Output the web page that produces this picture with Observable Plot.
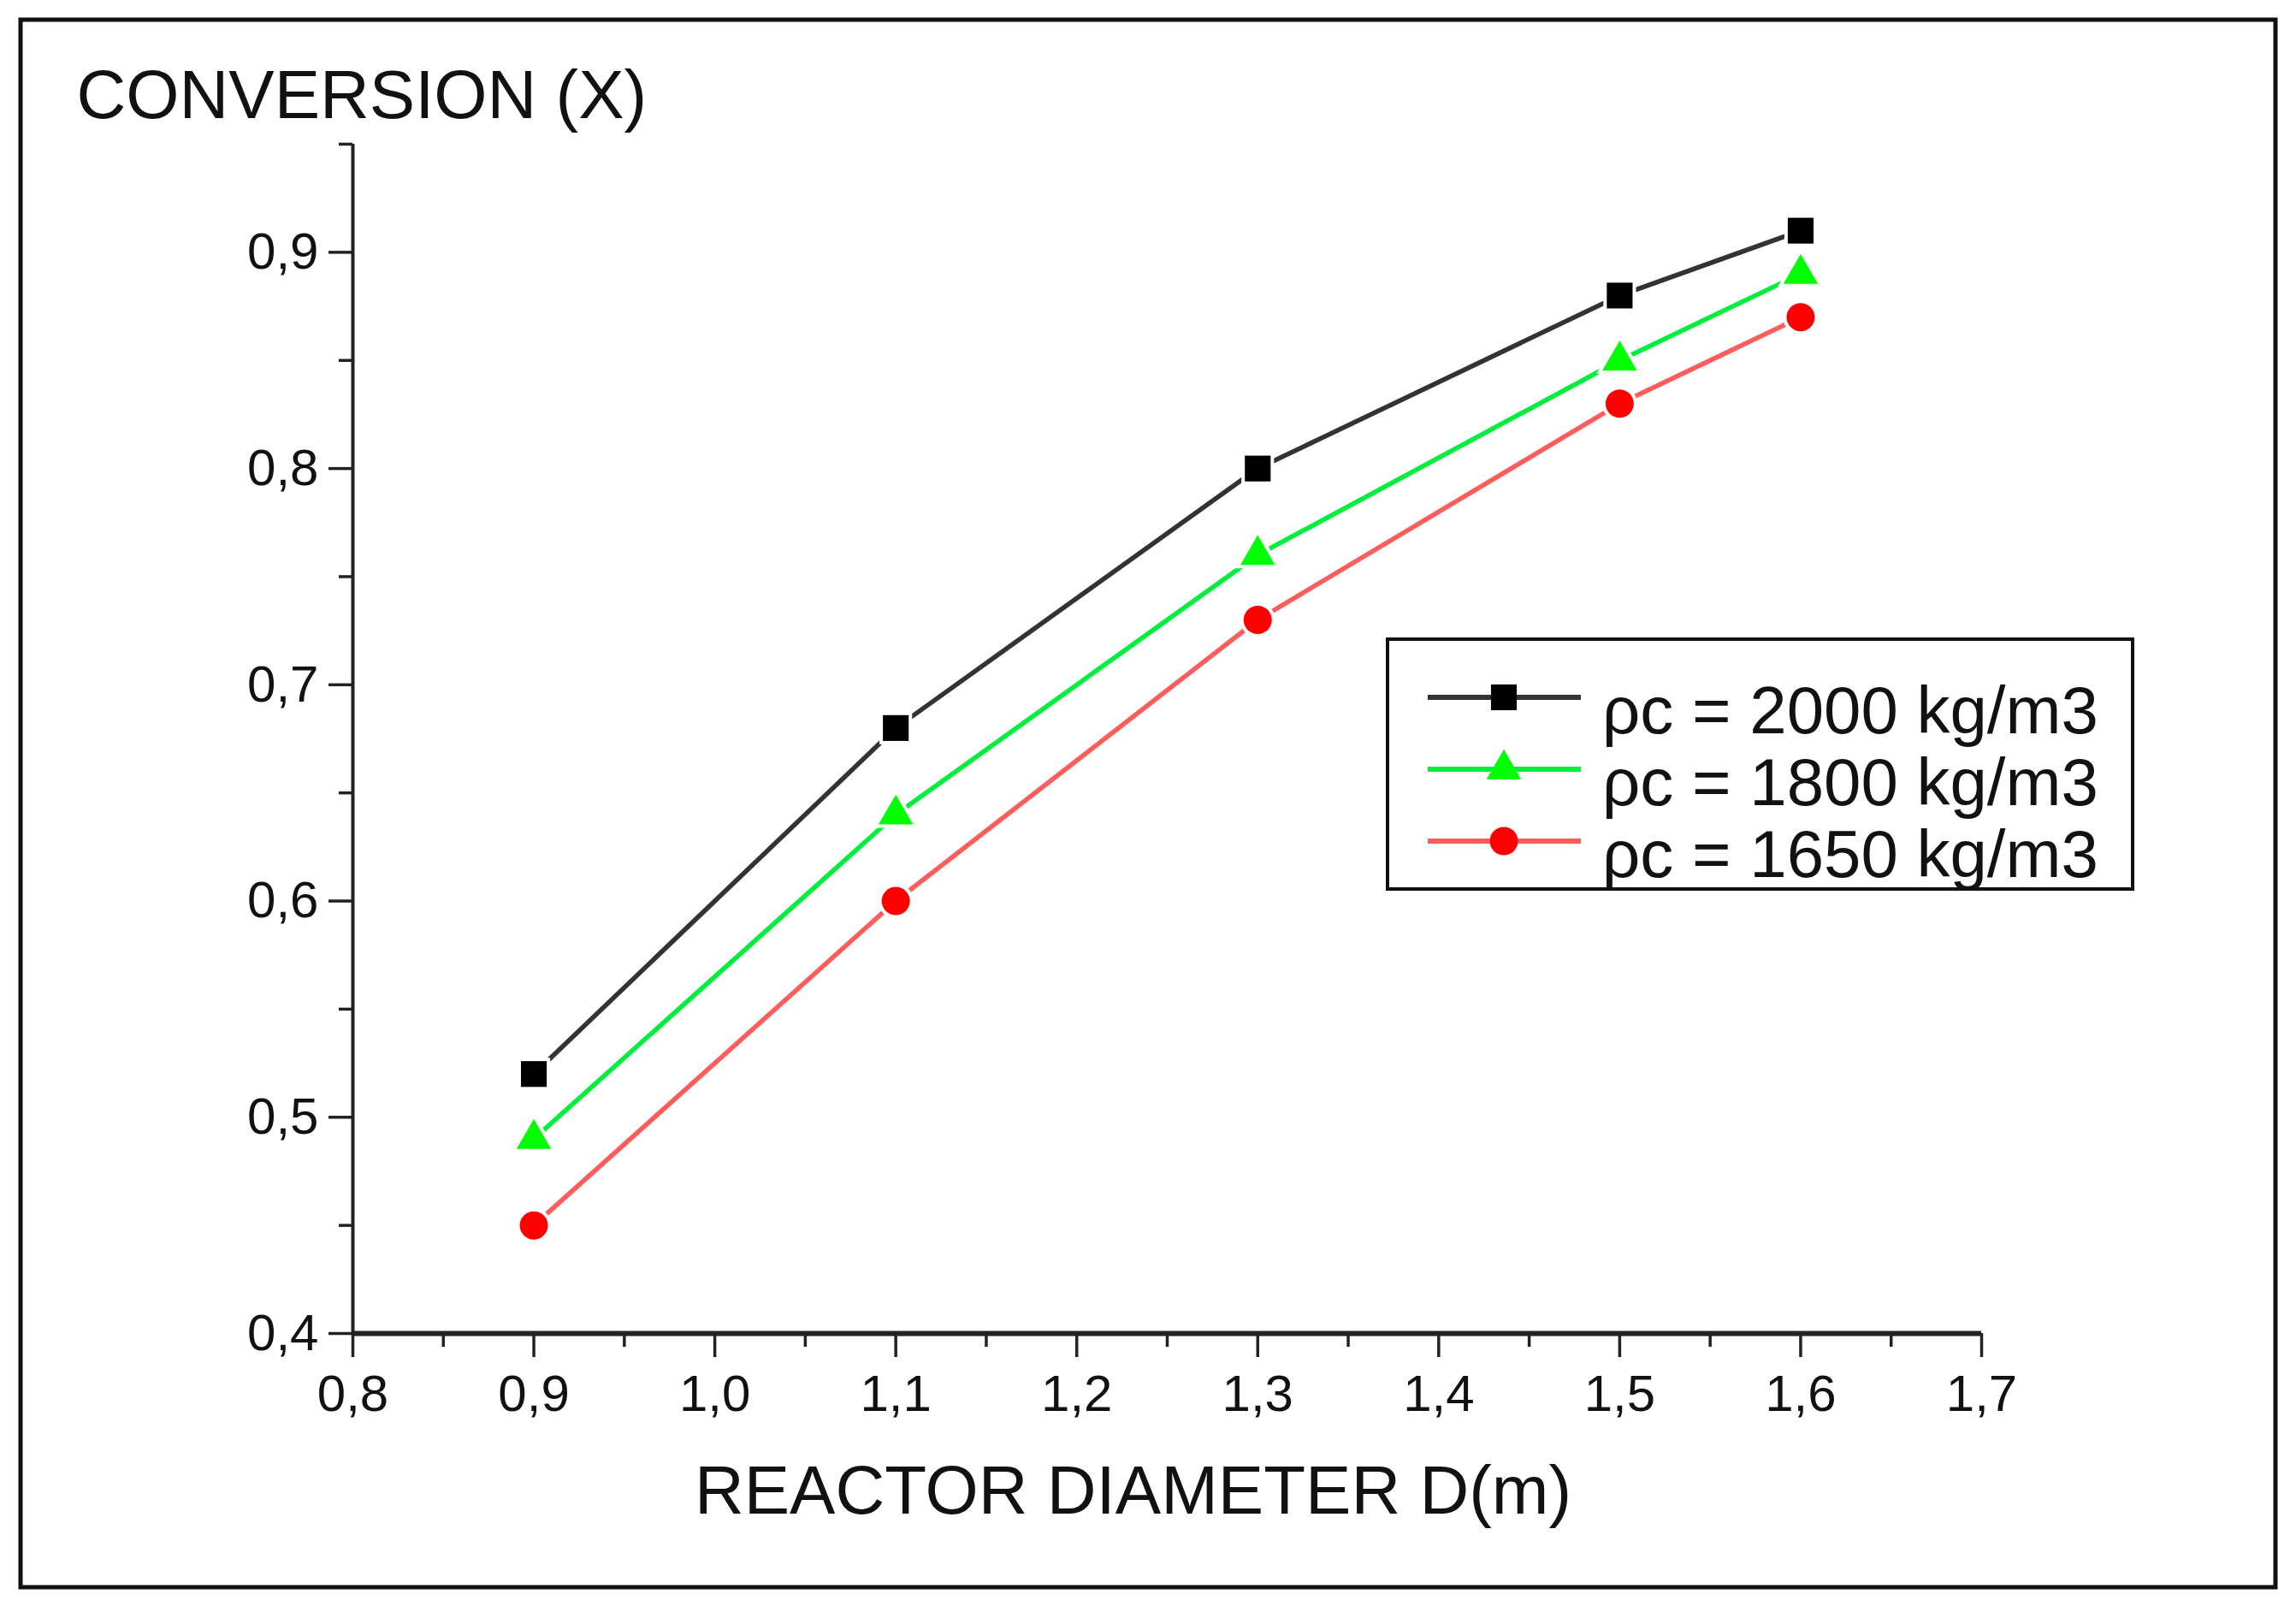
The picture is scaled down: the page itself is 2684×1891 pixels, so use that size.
<!DOCTYPE html>
<html>
<head>
<meta charset="utf-8">
<script src="https://cdn.jsdelivr.net/npm/d3@7"></script>
<script src="https://cdn.jsdelivr.net/npm/@observablehq/plot@0.6"></script>
<style>
  html, body { margin: 0; padding: 0; background: #fff; }
  #chart { position: relative; width: 2684px; height: 1891px; }
  #chart svg { display: block; }
  #overlay { position: absolute; left: 0; top: 0; pointer-events: none; }
</style>
</head>
<body>
<div id="chart"></div>
<script>
// Reactor diameter (m) and conversion for three catalyst densities
const diameters = [0.9, 1.1, 1.3, 1.5, 1.6];
const conv2000 = [0.52, 0.68, 0.80, 0.88, 0.91];
const conv1800 = [0.49, 0.64, 0.76, 0.85, 0.89];
const conv1650 = [0.45, 0.60, 0.73, 0.83, 0.87];
const seriesLabels = ["ρc = 2000 kg/m3", "ρc = 1800 kg/m3", "ρc = 1650 kg/m3"];

// Axis ticks
const xMajor = [0.8, 0.9, 1.0, 1.1, 1.2, 1.3, 1.4, 1.5, 1.6, 1.7];
const xMinor = [0.85, 0.95, 1.05, 1.15, 1.25, 1.35, 1.45, 1.55, 1.65];
const yMajor = [0.4, 0.5, 0.6, 0.7, 0.8, 0.9];
const yMinor = [0.45, 0.55, 0.65, 0.75, 0.85, 0.95];

const xTitle = "REACTOR DIAMETER D(m)";
const yTitle = "CONVERSION (X)";

const W = 2684, H = 1891;
const FONT = "'Liberation Sans', Arial, Helvetica, sans-serif";
const fmt = d => d.toFixed(1).replace(".", ",");

// Per-series styling
const styles = [
  {values: conv2000, line: "#333333", fill: "#000000", symbol: "square",   r: 17},
  {values: conv1800, line: "#00ee3c", fill: "#00ff00", symbol: "triangle", r: 15},
  {values: conv1650, line: "#ff5c5c", fill: "#ff0000", symbol: "circle",   r: 16.5}
];

const seriesMarks = [];
styles.forEach((s, i) => {
  const rows = diameters.map((d, j) => ({series: seriesLabels[i], x: d, y: s.values[j]}));
  seriesMarks.push(Plot.line(rows, {x: "x", y: "y", stroke: s.line, strokeWidth: 5.5, curve: "linear"}));
  s.rows = rows;
});
styles.forEach(s => {
  // white halo leaves a small gap between line and marker
  seriesMarks.push(Plot.dot(s.rows, {x: "x", y: "y", symbol: s.symbol, r: s.r, fill: "white", stroke: "white", strokeWidth: 8}));
});
styles.forEach(s => {
  seriesMarks.push(Plot.dot(s.rows, {x: "x", y: "y", symbol: s.symbol, r: s.r, fill: s.fill, stroke: "none"}));
});

const chart = Plot.plot({
  width: W,
  height: H,
  marginLeft: 412,
  marginRight: W - 2316,
  marginTop: 168,
  marginBottom: H - 1558,
  style: {fontFamily: FONT, fontSize: "60px", color: "#111", background: "white", overflow: "visible"},
  x: {domain: [0.8, 1.7]},
  y: {domain: [0.4, 0.95]},
  marks: [
    Plot.axisX(xMajor, {tickSize: 28, tickPadding: 20, tickFormat: fmt, fontSize: 60, stroke: "#222", strokeWidth: 3.5, label: null}),
    Plot.axisX(xMinor, {tickSize: 16, fill: "none", stroke: "#222", strokeWidth: 3.5, label: null}),
    Plot.axisY(yMajor, {tickSize: 28, tickPadding: 12, tickFormat: fmt, fontSize: 60, stroke: "#222", strokeWidth: 3.5, label: null}),
    Plot.axisY(yMinor, {tickSize: 16, fill: "none", stroke: "#222", strokeWidth: 3.5, label: null}),
    Plot.ruleX([0.8], {y1: 0.4, y2: 0.95, stroke: "#222", strokeWidth: 4}),
    Plot.ruleY([0.4], {x1: 0.8, x2: 1.7, stroke: "#222", strokeWidth: 6}),
    ...seriesMarks,
    Plot.text([yTitle], {text: d => d, frameAnchor: "top-left", textAnchor: "start", lineAnchor: "bottom", dx: 89 - 412, dy: 137 - 168, fontSize: 80, fill: "#111"}),
    Plot.text([xTitle], {text: d => d, frameAnchor: "bottom", textAnchor: "middle", lineAnchor: "bottom", dx: -40, dy: 210, fontSize: 80, fill: "#111"})
  ]
});
document.getElementById("chart").appendChild(chart);

// Outer frame and legend drawn on an overlay
const ov = d3.select("#chart").append("svg")
  .attr("id", "overlay").attr("width", W).attr("height", H)
  .style("font-family", FONT);

ov.append("rect")
  .attr("x", 24).attr("y", 23).attr("width", 2636).attr("height", 1832)
  .attr("fill", "none").attr("stroke", "#111").attr("stroke-width", 5);

const legend = ov.append("g");
legend.append("rect")
  .attr("x", 1622).attr("y", 747).attr("width", 871).attr("height", 292)
  .attr("fill", "white").attr("stroke", "#111").attr("stroke-width", 4);

const symbolTypes = {square: d3.symbolSquare, triangle: d3.symbolTriangle, circle: d3.symbolCircle};
styles.forEach((s, i) => {
  const cy = 815 + i * 84;
  const g = legend.append("g");
  g.append("line").attr("x1", 1669).attr("x2", 1848).attr("y1", cy).attr("y2", cy)
    .attr("stroke", s.line).attr("stroke-width", 6);
  g.append("path")
    .attr("d", d3.symbol().type(symbolTypes[s.symbol]).size(Math.PI * s.r * s.r)())
    .attr("transform", `translate(1758,${cy})`)
    .attr("fill", s.fill);
  g.append("text").attr("x", 1873).attr("y", cy + 42)
    .attr("font-size", 78).attr("fill", "#111")
    .text(seriesLabels[i]);
});
</script>
</body>
</html>
